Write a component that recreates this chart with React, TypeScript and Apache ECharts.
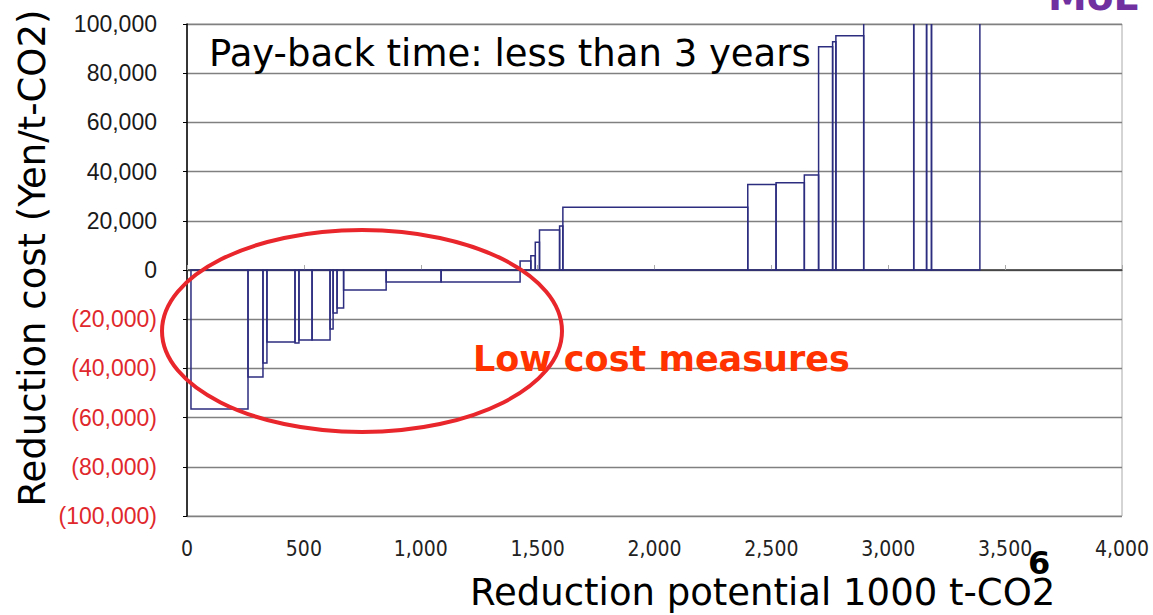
import React, { useEffect, useRef } from "react";
import * as echarts from "echarts";

// Boundaries of each measure along cumulative reduction potential (1000 t-CO2)
const stepEdges = [
  17, 261, 325, 342, 462, 479, 535, 612, 625, 642, 670, 852, 1087, 1425,
  1471, 1490, 1508, 1594, 1608, 2399, 2520, 2641, 2702, 2762, 2776, 2895,
  3109, 3164, 3185, 3392,
];
// Reduction cost of each measure (Yen/t-CO2); last four exceed the axis range
const stepCosts = [
  -56500, -43500, -37800, -29300, -29700, -28500, -28500, -24000, -17500,
  -15400, -8100, -4900, -4900, 3700, 5800, 11300, 16300, 17900, 25500, 34800,
  35500, 38600, 90800, 92800, 95200, 130000, 150000, 140000, 160000,
];
const xMin = 0;
const xMax = 4000;
const xInterval = 500;
const yMin = -100000;
const yMax = 100000;
const yInterval = 20000;

const fmt = (v: number) => Math.abs(v).toLocaleString("en-US");

export default function App() {
  const ref = useRef<HTMLDivElement>(null);
  useEffect(() => {
    document.body.style.margin = "0";
    const chart = echarts.init(ref.current!, null, { renderer: "svg" });
    const data = stepCosts.map((c, i) => [stepEdges[i], stepEdges[i + 1], c]);
    chart.setOption({
      animation: false,
      backgroundColor: "#fff",
      grid: {
        left: 187,
        right: 31,
        top: 24,
        bottom: 99,
        show: true,
        borderColor: "#aaaaaa",
        borderWidth: 1,
      },
      xAxis: [
        {
          type: "value",
          min: xMin,
          max: xMax,
          interval: xInterval,
          position: "bottom",
          axisLine: { show: false, onZero: false },
          axisTick: { show: false },
          splitLine: { show: false },
          axisLabel: {
            formatter: (v: number) => fmt(v),
            color: "#222",
            fontFamily: "'Liberation Sans Narrow', 'DejaVu Sans Condensed', 'Liberation Sans', sans-serif",
            fontSize: 21,
            margin: 22,
          },
        },
        {
          type: "value",
          min: xMin,
          max: xMax,
          interval: xInterval,
          position: "bottom",
          axisLine: { show: true, onZero: true, lineStyle: { color: "#333", width: 1.5 } },
          axisTick: { show: true, inside: true, length: 5, lineStyle: { color: "#aaa" } },
          axisLabel: { show: false },
          splitLine: { show: false },
        },
      ],
      yAxis: {
        type: "value",
        min: yMin,
        max: yMax,
        interval: yInterval,
        axisLine: { show: true, onZero: false, lineStyle: { color: "#000", width: 1.5 } },
        axisTick: { show: true, length: 4, lineStyle: { color: "#000" } },
        splitLine: { show: true, lineStyle: { color: "#808080", width: 1.3 } },
        axisLabel: {
          formatter: (v: number) => (v < 0 ? `(${fmt(v)})` : fmt(v)),
          color: (v: any) => (Number(v) < 0 ? "#e0282c" : "#1a1a1a"),
          fontFamily: "'Liberation Sans', Arial, sans-serif",
          fontSize: 23,
          margin: 30,
        },
      },
      series: [
        {
          type: "custom",
          xAxisIndex: 0,
          yAxisIndex: 0,
          encode: { x: [0, 1], y: 2 },
          data,
          renderItem: (params: any, api: any) => {
            const a = api.coord([api.value(0), 0]);
            const b = api.coord([api.value(1), api.value(2)]);
            const cs = params.coordSys;
            const base = a[1];
            const end = b[1];
            const clipped = end < cs.y;
            const yEnd = Math.max(cs.y, Math.min(end, cs.y + cs.height));
            const style = { fill: "rgba(0,0,0,0)", stroke: "#2d2d80", lineWidth: 1.5 };
            if (clipped) {
              return {
                type: "polyline",
                shape: {
                  points: [
                    [a[0], yEnd],
                    [a[0], base],
                    [b[0], base],
                    [b[0], yEnd],
                  ],
                },
                style,
              };
            }
            return {
              type: "rect",
              shape: {
                x: a[0],
                y: Math.min(base, yEnd),
                width: b[0] - a[0],
                height: Math.abs(yEnd - base),
              },
              style,
            };
          },
        },
      ],
      graphic: [
        {
          type: "ellipse",
          shape: { cx: 362, cy: 331, rx: 200, ry: 101 },
          style: { fill: "rgba(0,0,0,0)", stroke: "#e8262b", lineWidth: 4 },
          z: 100,
        },
        {
          type: "text",
          x: 209,
          y: 53,
          style: {
            text: "Pay-back time: less than 3 years",
            font: "37px 'DejaVu Sans', sans-serif",
            fill: "#000",
            textAlign: "left",
            textVerticalAlign: "middle",
          },
          z: 100,
        },
        {
          type: "text",
          x: 473,
          y: 359,
          style: {
            text: "Low cost measures",
            font: "bold 35px 'DejaVu Sans', sans-serif",
            fill: "#ff3300",
            textAlign: "left",
            textVerticalAlign: "middle",
          },
          z: 100,
        },
        {
          type: "text",
          x: 470,
          y: 592,
          style: {
            text: "Reduction potential 1000 t-CO2",
            font: "37px 'DejaVu Sans', sans-serif",
            fill: "#000",
            textAlign: "left",
            textVerticalAlign: "middle",
          },
          z: 100,
        },
        {
          type: "text",
          x: 32,
          y: 258,
          rotation: Math.PI / 2,
          style: {
            text: "Reduction cost (Yen/t-CO2)",
            font: "37px 'DejaVu Sans', sans-serif",
            fill: "#000",
            textAlign: "center",
            textVerticalAlign: "middle",
          },
          z: 100,
        },
        {
          type: "text",
          x: 1048,
          y: -4,
          style: {
            text: "MoE",
            font: "bold 39px 'DejaVu Sans', sans-serif",
            fill: "#7030a0",
            textAlign: "left",
            textVerticalAlign: "middle",
          },
          z: 100,
        },
        {
          type: "text",
          x: 1039,
          y: 563,
          style: {
            text: "6",
            font: "bold 32px 'DejaVu Sans', sans-serif",
            fill: "#000",
            textAlign: "center",
            textVerticalAlign: "middle",
          },
          z: 100,
        },
      ],
    });
    return () => chart.dispose();
  }, []);
  return (
    <div
      ref={ref}
      style={{ position: "fixed", left: 0, top: 0, width: 1153, height: 615 }}
    />
  );
}
